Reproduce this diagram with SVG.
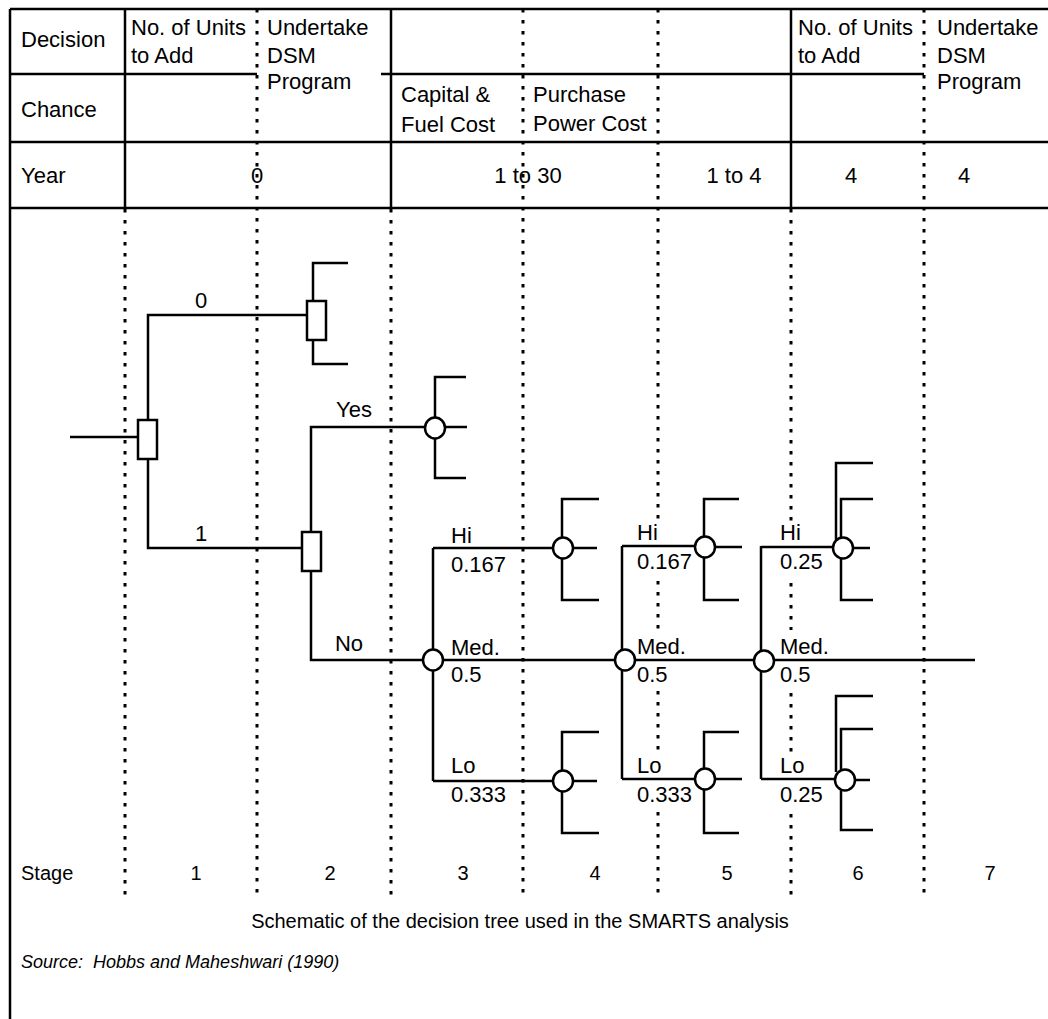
<svg xmlns="http://www.w3.org/2000/svg" width="1048" height="1019" viewBox="0 0 1048 1019">
<style>
text{font-family:"Liberation Sans",Arial,sans-serif;font-size:22px;fill:#000}
.m{text-anchor:middle}
.f{font-size:20px}
.it{font-style:italic;font-size:18px}
.s{fill:none;stroke:#000;stroke-width:2.5}
.d{fill:none;stroke:#000;stroke-width:3;stroke-dasharray:3.5 7.5}
.node{fill:#fff;stroke:#000;stroke-width:2.5}
.bg{fill:#fff}
</style>
<rect x="0" y="0" width="1048" height="1019" fill="#fff"/>
<g id="grid">
<path class="d" d="M257,9V898M523,9V898M658,9V898M924,9V898M125,209V898M391,209V898M791,209V898"/>
<path class="s" d="M10,9H1048M10,9V1019M10,74H257M381,74H924M10,142H1048M10,208H1048M125,9V208M391,9V208M791,9V208"/>
</g>
<g id="header">
<text x="21" y="47">Decision</text>
<text x="21" y="117">Chance</text>
<text x="21" y="183">Year</text>
<text x="131" y="35">No. of Units</text>
<text x="131" y="63">to Add</text>
<text x="267" y="35">Undertake</text>
<text x="267" y="63">DSM</text>
<text x="267" y="89">Program</text>
<text x="401" y="102">Capital &amp;</text>
<text x="401" y="132">Fuel Cost</text>
<text x="533" y="102">Purchase</text>
<text x="533" y="131">Power Cost</text>
<text x="798" y="35">No. of Units</text>
<text x="798" y="63">to Add</text>
<text x="937" y="35">Undertake</text>
<text x="937" y="63">DSM</text>
<text x="937" y="89">Program</text>
<text class="m" x="257" y="183">0</text>
<text class="m" x="528" y="183">1 to 30</text>
<text class="m" x="734" y="183">1 to 4</text>
<text class="m" x="851" y="183">4</text>
<text class="m" x="964" y="183">4</text>
</g>
<g id="label-bg">
<rect class="bg" x="634" y="522" width="62" height="56"/>
<rect class="bg" x="634" y="630" width="62" height="60"/>
<rect class="bg" x="634" y="752" width="62" height="58"/>
<rect class="bg" x="777" y="522" width="52" height="56"/>
<rect class="bg" x="777" y="630" width="52" height="60"/>
<rect class="bg" x="777" y="752" width="52" height="58"/>
</g>
<g id="connectors">
<path class="s" d="M70,437H138"/>
<path class="s" d="M148,420V315H307"/>
<path class="s" d="M148,459V548H302"/>
<path class="s" d="M348,263H313V301M313,340V364H348"/>
<path class="s" d="M311,532V427H425"/>
<path class="s" d="M311,571V660H975"/>
<path class="s" d="M466,377H435V478H466M435,427H467"/>
<path class="s" d="M433,548V781M433,548H553M433,781H553"/>
<path class="s" d="M599,499H562V600H599M562,548H597"/>
<path class="s" d="M599,732H562V833H599M562,781H597"/>
<path class="s" d="M622,546V779M622,546H695M622,779H695"/>
<path class="s" d="M739,499H704V600H739M704,547H742"/>
<path class="s" d="M739,732H704V833H739M704,779H742"/>
<path class="s" d="M761,546V779M761,547H833M761,779H835"/>
<path class="s" d="M873,463H836V540M873,499H841V600H873M841,548H870"/>
<path class="s" d="M873,696H836V772M873,729H841V830H873M843,780H870"/>
</g>
<g id="node-d1"><rect class="node" x="138" y="420" width="19" height="39"/></g>
<g id="node-d2"><rect class="node" x="307" y="301" width="19" height="39"/></g>
<g id="node-d3"><rect class="node" x="302" y="532" width="19" height="39"/></g>
<g id="node-c2"><ellipse class="node" cx="435" cy="428" rx="10" ry="10.5"/></g>
<g id="node-c3"><ellipse class="node" cx="433" cy="660" rx="10" ry="10.5"/></g>
<g id="node-c3hi"><ellipse class="node" cx="563" cy="548" rx="10" ry="10.5"/></g>
<g id="node-c3lo"><ellipse class="node" cx="563" cy="781" rx="10" ry="10.5"/></g>
<g id="node-c4"><ellipse class="node" cx="625" cy="660" rx="10" ry="10.5"/></g>
<g id="node-c4hi"><ellipse class="node" cx="705" cy="547" rx="10" ry="10.5"/></g>
<g id="node-c4lo"><ellipse class="node" cx="705" cy="779" rx="10" ry="10.5"/></g>
<g id="node-c5"><ellipse class="node" cx="764" cy="661" rx="10" ry="10.5"/></g>
<g id="node-c5hi"><ellipse class="node" cx="843" cy="548" rx="10" ry="10.5"/></g>
<g id="node-c5lo"><ellipse class="node" cx="845" cy="780" rx="10" ry="10.5"/></g>
<g id="labels">
<text class="m" x="201" y="308">0</text>
<text class="m" x="201" y="541">1</text>
<text class="m" x="354" y="417">Yes</text>
<text class="m" x="349" y="651">No</text>
<text x="451" y="543">Hi</text>
<text x="451" y="572">0.167</text>
<text x="451" y="655">Med.</text>
<text x="451" y="682">0.5</text>
<text x="451" y="773">Lo</text>
<text x="451" y="802">0.333</text>
<text x="637" y="540">Hi</text>
<text x="637" y="569">0.167</text>
<text x="637" y="654">Med.</text>
<text x="637" y="682">0.5</text>
<text x="637" y="773">Lo</text>
<text x="637" y="802">0.333</text>
<text x="780" y="540">Hi</text>
<text x="780" y="569">0.25</text>
<text x="780" y="654">Med.</text>
<text x="780" y="682">0.5</text>
<text x="780" y="773">Lo</text>
<text x="780" y="802">0.25</text>
</g>
<g id="footer">
<text class="f" x="21" y="880">Stage</text>
<text class="m f" x="196" y="880">1</text>
<text class="m f" x="330" y="880">2</text>
<text class="m f" x="463" y="880">3</text>
<text class="m f" x="595" y="880">4</text>
<text class="m f" x="727" y="880">5</text>
<text class="m f" x="858" y="880">6</text>
<text class="m f" x="990" y="880">7</text>
<text class="m f" x="520" y="928">Schematic of the decision tree used in the SMARTS analysis</text>
<text class="it" x="21" y="968" xml:space="preserve">Source:  Hobbs and Maheshwari (1990)</text>
</g>
</svg>
